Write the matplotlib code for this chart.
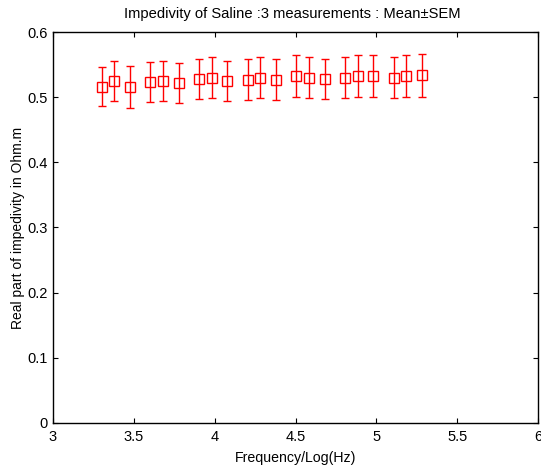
import numpy as np
import matplotlib
matplotlib.use("Agg")
import matplotlib.pyplot as plt

plt.rcParams['font.family'] = ['Liberation Sans', 'DejaVu Sans']

# Measurement frequencies (Hz): 2 kHz * {1, 1.2, 1.5} per octave, 7 octaves
freqs_hz = [2000, 2400, 3000, 4000, 4800, 6000, 8000, 9600, 12000,
            16000, 19200, 24000, 32000, 38400, 48000, 64000, 76800, 96000,
            128000, 153600, 192000]
log_freq = np.log10(freqs_hz)

# Mean real part of impedivity (Ohm.m) over 3 measurements
mean_impedivity = [0.516, 0.525, 0.516, 0.523, 0.525, 0.522, 0.528, 0.530,
                   0.525, 0.527, 0.530, 0.527, 0.532, 0.530, 0.528, 0.530,
                   0.532, 0.532, 0.530, 0.532, 0.534]
# Standard error of the mean
sem_impedivity = [0.030, 0.031, 0.032, 0.031, 0.031, 0.031, 0.031, 0.032,
                  0.031, 0.031, 0.032, 0.031, 0.032, 0.031, 0.031, 0.031,
                  0.032, 0.032, 0.032, 0.032, 0.033]

x_ticks = [3, 3.5, 4, 4.5, 5, 5.5, 6]
x_ticklabels = ['3', '3.5', '4', '4.5', '5', '5.5', '6']
y_ticks = [0, 0.1, 0.2, 0.3, 0.4, 0.5, 0.6]
y_ticklabels = ['0', '0.1', '0.2', '0.3', '0.4', '0.5', '0.6']

fig = plt.figure(figsize=(5.41, 4.68), dpi=100)
ax = fig.add_axes([0.098, 0.0962, 0.8965, 0.8354])

ax.errorbar(log_freq, mean_impedivity, yerr=sem_impedivity,
            fmt='s', color='red', ecolor='red', mfc='none', mec='red',
            markersize=6.5, markeredgewidth=1.0, elinewidth=1.0,
            capsize=3.0, capthick=1.0)

ax.set_xlim(3, 6)
ax.set_ylim(0, 0.6)
ax.set_xticks(x_ticks)
ax.set_xticklabels(x_ticklabels)
ax.set_yticks(y_ticks)
ax.set_yticklabels(y_ticklabels)

ax.tick_params(direction='in', top=True, right=True, length=3.5,
               width=0.8, labelsize=10.5, colors='black')
ax.tick_params(axis='x', pad=5)
ax.tick_params(axis='y', pad=4)
for spine in ax.spines.values():
    spine.set_linewidth(1.0)
    spine.set_color('black')

ax.set_title('Impedivity of Saline :3 measurements : Mean\u00b1SEM',
             fontsize=10.6, pad=10, x=0.494)
ax.set_xlabel('Frequency/Log(Hz)', fontsize=10.2, labelpad=5)
ax.set_ylabel('Real part of impedivity in Ohm.m', fontsize=10, labelpad=1.5)

fig.savefig('out.png', dpi=100)
